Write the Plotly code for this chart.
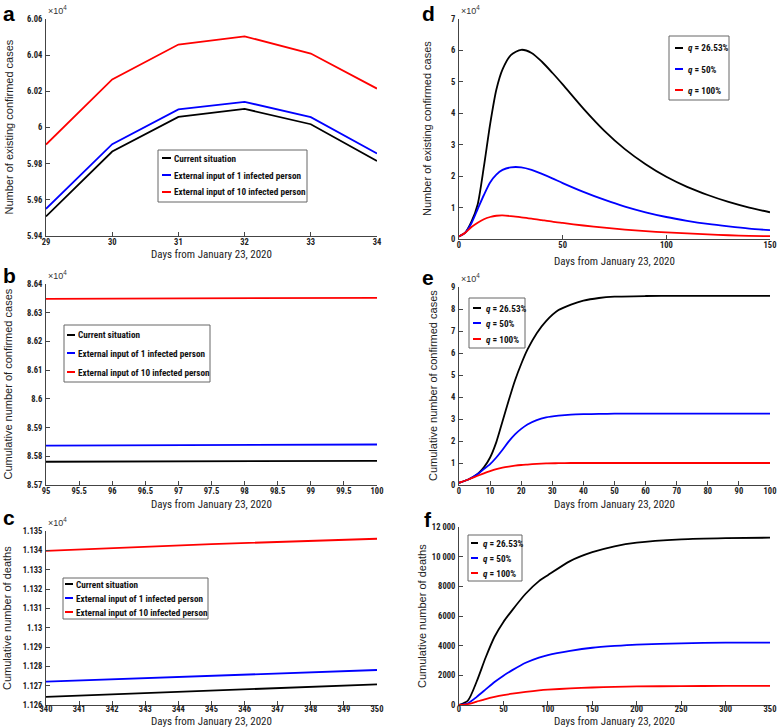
import plotly.graph_objects as go

W, H = 778, 728

# ---------------- data ----------------
a_days = [29, 30, 31, 32, 33, 34]
a_current = [5.9508, 5.9867, 6.0059, 6.0103, 6.0018, 5.9815]
a_ext1 = [5.9550, 5.9908, 6.0100, 6.0142, 6.0057, 5.9856]
a_ext10 = [5.9906, 6.0266, 6.0459, 6.0504, 6.0409, 6.0215]

b_days = [95, 96, 97, 98, 99, 100]
b_current = [8.5781, 8.5782, 8.5782, 8.5783, 8.5783, 8.5784]
b_ext1 = [8.5837, 8.5838, 8.5839, 8.5839, 8.5840, 8.5841]
b_ext10 = [8.6348, 8.6349, 8.6350, 8.6350, 8.6351, 8.6352]

c_days = [340, 345, 350]
c_current = [1.12642, 1.12676, 1.12707]
c_ext1 = [1.12721, 1.12752, 1.12781]
c_ext10 = [1.13397, 1.13432, 1.13460]

d_days = [0, 3, 6, 9, 12, 15, 18, 21, 25, 30, 35, 40, 45, 50, 60, 70, 80, 90, 100, 110, 120, 130, 140, 150]
d_q2653 = [0.08, 0.2, 0.55, 1.1, 2.3, 3.65, 4.75, 5.4, 5.85, 6.02, 5.92, 5.64, 5.29, 4.92, 4.15, 3.45, 2.86, 2.38, 1.98, 1.66, 1.4, 1.18, 1.0, 0.85]
d_q50 = [0.08, 0.2, 0.5, 0.95, 1.4, 1.8, 2.05, 2.2, 2.28, 2.28, 2.2, 2.07, 1.93, 1.78, 1.5, 1.25, 1.03, 0.85, 0.7, 0.58, 0.48, 0.4, 0.33, 0.28]
d_q100 = [0.08, 0.2, 0.38, 0.52, 0.63, 0.7, 0.74, 0.75, 0.73, 0.69, 0.65, 0.6, 0.55, 0.51, 0.43, 0.36, 0.3, 0.25, 0.21, 0.18, 0.15, 0.12, 0.1, 0.09]

e_days = [0, 3, 6, 8, 10, 12, 14, 16, 18, 20, 22, 25, 28, 32, 36, 40, 45, 50, 60, 70, 80, 90, 100]
e_q2653 = [0.1, 0.25, 0.5, 0.8, 1.25, 1.95, 2.9, 3.85, 4.75, 5.5, 6.15, 6.9, 7.45, 7.95, 8.2, 8.38, 8.5, 8.56, 8.59, 8.6, 8.6, 8.6, 8.6]
e_q50 = [0.1, 0.25, 0.5, 0.72, 0.95, 1.25, 1.6, 1.98, 2.3, 2.55, 2.75, 2.95, 3.07, 3.15, 3.2, 3.22, 3.23, 3.24, 3.24, 3.24, 3.24, 3.24, 3.24]
e_q100 = [0.1, 0.25, 0.42, 0.53, 0.63, 0.72, 0.79, 0.84, 0.88, 0.91, 0.93, 0.96, 0.98, 0.99, 1.0, 1.0, 1.0, 1.0, 1.0, 1.0, 1.0, 1.0, 1.0]

f_days = [0, 10, 20, 30, 40, 50, 60, 75, 90, 100, 125, 150, 175, 200, 250, 300, 350]
f_q2653 = [0, 300, 1600, 3200, 4600, 5600, 6400, 7500, 8350, 8750, 9700, 10300, 10700, 10950, 11170, 11250, 11280]
f_q50 = [0, 120, 550, 1050, 1550, 1980, 2350, 2850, 3200, 3370, 3650, 3860, 3980, 4070, 4160, 4200, 4210]
f_q100 = [0, 60, 230, 400, 540, 660, 760, 880, 980, 1030, 1120, 1180, 1220, 1250, 1275, 1285, 1290]

scenario_names = ["Current situation", "External input of 1 infected person", "External input of 10 infected person"]
q_names = ["<i>q</i> = 26.53%", "<i>q</i> = 50%", "<i>q</i> = 100%"]
colors = ["#000000", "#0000ff", "#ff0000"]

a_yticks = [5.94, 5.96, 5.98, 6.0, 6.02, 6.04, 6.06]
a_ytext = ["5.94", "5.96", "5.98", "6", "6.02", "6.04", "6.06"]
b_yticks = [8.57, 8.58, 8.59, 8.60, 8.61, 8.62, 8.63, 8.64]
b_ytext = ["8.57", "8.58", "8.59", "8.6", "8.61", "8.62", "8.63", "8.64"]
b_xticks = [95, 95.5, 96, 96.5, 97, 97.5, 98, 98.5, 99, 99.5, 100]
c_yticks = [1.126, 1.127, 1.128, 1.129, 1.130, 1.131, 1.132, 1.133, 1.134, 1.135]
c_ytext = ["1.126", "1.127", "1.128", "1.129", "1.13", "1.131", "1.132", "1.133", "1.134", "1.135"]
f_yticks = [0, 2000, 4000, 6000, 8000, 10000, 12000]
f_ytext = ["0", "2000", "4000", "6000", "8000", "10 000", "12 000"]

# ---------------- styling ----------------
NARROW = "Liberation Sans Narrow, Roboto Condensed, Arial Narrow, sans-serif"
TICKFONT = dict(family=NARROW, size=8.5, color="#222", weight="bold")
TITLEFONT = dict(family="Liberation Sans, Arial, sans-serif", size=11, color="#222")
XTITLEFONT = dict(family=NARROW, size=11, color="#222")
LEGFONT = dict(family=NARROW, size=9.2, color="#111", weight="bold")


def px_x(p):
    return p / W


def px_y(p):
    return 1 - p / H


# panel boxes in pixels: (left, right, top, bottom)
boxes = {
    "a": (46, 377, 19, 236),
    "b": (46, 377, 284, 485),
    "c": (46, 377, 531, 705),
    "d": (459, 770, 19, 239),
    "e": (459, 770, 287, 485),
    "f": (459, 770, 527, 705),
}
order = ["a", "b", "c", "d", "e", "f"]

panels = {
    "a": (a_days, [a_current, a_ext1, a_ext10], scenario_names),
    "b": (b_days, [b_current, b_ext1, b_ext10], scenario_names),
    "c": (c_days, [c_current, c_ext1, c_ext10], scenario_names),
    "d": (d_days, [d_q2653, d_q50, d_q100], q_names),
    "e": (e_days, [e_q2653, e_q50, e_q100], q_names),
    "f": (f_days, [f_q2653, f_q50, f_q100], q_names),
}

fig = go.Figure()
for i, k in enumerate(order):
    n = "" if i == 0 else str(i + 1)
    xs, ys, names = panels[k]
    smooth = k in ("d", "e", "f")
    for y, nm, col in zip(ys, names, colors):
        fig.add_trace(go.Scatter(
            x=xs, y=y, mode="lines", name=nm,
            line=dict(color=col, width=1.8, shape="spline" if smooth else "linear", smoothing=0.7),
            xaxis="x" + n, yaxis="y" + n, showlegend=False,
        ))

axis_common = dict(
    showline=True, linecolor="#444", linewidth=1, mirror=False, automargin=False,
    ticks="inside", ticklen=4, tickcolor="#444", tickwidth=1,
    showgrid=False, zeroline=False, tickfont=TICKFONT, ticklabeloverflow="allow",
)

xranges = {"a": [29, 34], "b": [95, 100], "c": [340, 350], "d": [0, 150], "e": [0, 100], "f": [0, 350]}
yranges = {"a": [5.94, 6.06], "b": [8.57, 8.64], "c": [1.126, 1.135], "d": [0, 7], "e": [0, 9], "f": [0, 12000]}
xticks = {"a": dict(tickvals=a_days), "b": dict(tickvals=b_xticks, ticktext=[("%g" % v) for v in b_xticks]),
          "c": dict(dtick=1, tick0=340), "d": dict(dtick=50, tick0=0), "e": dict(dtick=10, tick0=0),
          "f": dict(dtick=50, tick0=0)}
yticks = {"a": dict(tickvals=a_yticks, ticktext=a_ytext), "b": dict(tickvals=b_yticks, ticktext=b_ytext),
          "c": dict(tickvals=c_yticks, ticktext=c_ytext), "d": dict(dtick=1, tick0=0),
          "e": dict(dtick=1, tick0=0), "f": dict(tickvals=f_yticks, ticktext=f_ytext)}
ytitles = {"a": "Number of existing confirmed cases", "b": "Cumulative number of confirmed cases",
           "c": "Cumulative number of deaths", "d": "Number of existing confirmed cases",
           "e": "Cumulative number of confirmed cases", "f": "Cumulative number of deaths"}
ytitle_x = {"a": 8, "b": 7, "c": 7, "d": 427, "e": 433, "f": 422}
xtitle_y = {"a": 255, "b": 504, "c": 721.5, "d": 261, "e": 504, "f": 721.5}
xlabel_standoff = {"a": -2, "b": -2, "c": -4, "d": -2, "e": -2, "f": -4}
letter_pos = {"a": (9, 13), "b": (9, 275), "c": (9, 517), "d": (428, 13), "e": (428, 277), "f": (428, 519)}

# legend boxes: (left, right, top, bottom), row y's, line x0, x1, text x
legend_geom = {
    "a": ((158, 307, 150, 202), (158, 175, 192), 162, 171, 172),
    "b": ((64, 210, 325, 382), (335, 353, 372), 67, 75, 76),
    "c": ((63, 208, 578, 619), (584, 598, 612), 65, 73, 74),
    "d": ((669, 729, 36, 100), (48, 69, 90), 675, 683, 686),
    "e": ((469, 525, 298, 348), (308, 323, 339), 473, 481, 484),
    "f": ((468, 522, 535, 581), (543, 558, 573), 471, 478, 481),
}

layout = dict(width=W, height=H, margin=dict(l=0, r=0, t=0, b=0, autoexpand=False),
              paper_bgcolor="white", plot_bgcolor="white", showlegend=False)
annotations = []
shapes = []

for i, k in enumerate(order):
    n = "" if i == 0 else str(i + 1)
    l, r, t, b = boxes[k]
    layout["xaxis" + n] = dict(axis_common, domain=[px_x(l), px_x(r)], range=xranges[k], anchor="y" + n,
                               ticklabelstandoff=xlabel_standoff[k], **xticks[k])
    layout["yaxis" + n] = dict(axis_common, domain=[px_y(b), px_y(t)], range=yranges[k], anchor="x" + n,
                               ticklabelstandoff=1, **yticks[k])
    annotations.append(dict(text=ytitles[k], x=px_x(ytitle_x[k]), y=px_y((t + b) / 2), xref="paper", yref="paper",
                            textangle=-90, showarrow=False, font=TITLEFONT, xanchor="center", yanchor="middle"))
    annotations.append(dict(text="Days from January 23, 2020", x=px_x((l + r) / 2), y=px_y(xtitle_y[k]),
                            xref="paper", yref="paper", showarrow=False, font=XTITLEFONT,
                            xanchor="center", yanchor="middle"))
    lx, ly = letter_pos[k]
    annotations.append(dict(text="<b>%s</b>" % k, x=px_x(lx), y=px_y(ly), xref="paper", yref="paper",
                            showarrow=False, font=dict(family="Liberation Sans, Arial, sans-serif", size=21, color="black"),
                            xanchor="center", yanchor="middle"))
    if k != "f":
        annotations.append(dict(text="×10<sup>4</sup>", x=px_x(l), y=px_y(t - 1), xref="paper", yref="paper",
                                showarrow=False, font=dict(family="Liberation Sans, Arial, sans-serif", size=9, color="#333"),
                                xanchor="left", yanchor="bottom"))
    # legend (drawn manually)
    (bl, br, bt, bb), rows, lx0, lx1, tx = legend_geom[k]
    shapes.append(dict(type="rect", xref="paper", yref="paper", x0=px_x(bl), x1=px_x(br), y0=px_y(bb), y1=px_y(bt),
                       line=dict(color="#666", width=1), fillcolor="white", layer="above"))
    _, _, names = panels[k]
    for ry, nm, col in zip(rows, names, colors):
        shapes.append(dict(type="line", xref="paper", yref="paper", x0=px_x(lx0), x1=px_x(lx1), y0=px_y(ry), y1=px_y(ry),
                           line=dict(color=col, width=2), layer="above"))
        annotations.append(dict(text=nm, x=px_x(tx), y=px_y(ry), xref="paper", yref="paper", showarrow=False,
                                font=LEGFONT, xanchor="left", yanchor="middle"))

layout["annotations"] = annotations
layout["shapes"] = shapes
fig.update_layout(**layout)
fig.write_html(
    "out.html",
    config={"displayModeBar": False},
    post_script="document.body.style.margin='0';document.body.style.padding='0';document.body.style.overflow='hidden';",
)
